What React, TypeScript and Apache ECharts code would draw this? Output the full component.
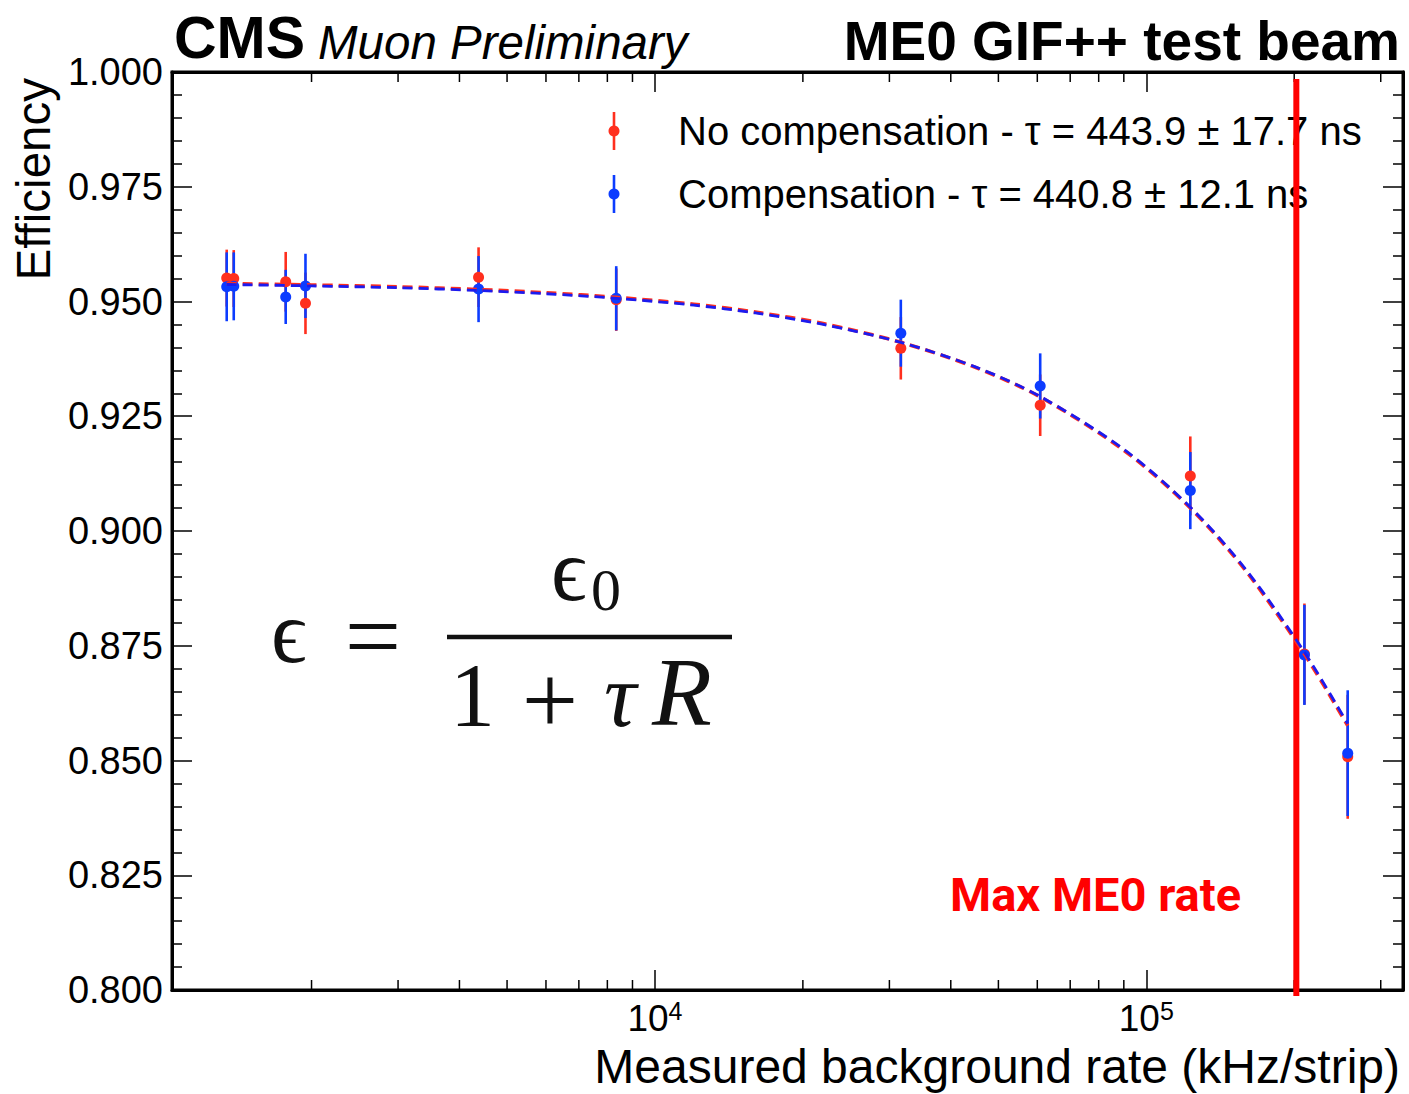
import React, { useEffect, useRef } from "react";
import * as echarts from "echarts";

// ---- data ----
const rates = [1344, 1389, 1772, 1944, 4375, 8340, 31650, 60820, 122900, 209800, 257000];
const effNoComp = [0.9551, 0.955, 0.9543, 0.9496, 0.9553, 0.9504, 0.9398, 0.9274, 0.912, 0.8732, 0.8508];
const errNoComp = [0.0062, 0.0062, 0.0065, 0.0067, 0.0065, 0.0068, 0.0068, 0.0067, 0.0086, 0.011, 0.0135];
const effComp = [0.9532, 0.9533, 0.951, 0.9534, 0.9527, 0.9507, 0.9431, 0.9316, 0.9088, 0.873, 0.8516];
const errComp = [0.0075, 0.0074, 0.0059, 0.007, 0.0072, 0.007, 0.0073, 0.0071, 0.0084, 0.0109, 0.0137];

const fitRates = [1344, 2000, 3000, 4375, 6000, 8340, 12000, 16000, 22000, 31650, 45000, 60820, 90000, 122900, 160000, 209800, 257000];
const fitNoComp = [0.9539, 0.9536, 0.9532, 0.9526, 0.9519, 0.9509, 0.9494, 0.9477, 0.9452, 0.9411, 0.9356, 0.9292, 0.9176, 0.905, 0.8911, 0.8732, 0.8576];
const fitComp = [0.9537, 0.9534, 0.953, 0.9524, 0.9517, 0.9507, 0.9492, 0.9475, 0.945, 0.9411, 0.9357, 0.9293, 0.9178, 0.9052, 0.8914, 0.8736, 0.858];

const xMinorTicks = [2000, 3000, 4000, 5000, 6000, 7000, 8000, 9000, 20000, 30000, 40000, 50000, 60000, 70000, 80000, 90000, 200000, 300000];
const maxME0Rate = 202000;

const X_MIN = 1040;
const X_MAX = 333000;
const Y_MIN = 0.8;
const Y_MAX = 1.0;
const Y_STEP = 0.025;

const legendNoComp = "No compensation - \u03c4 = 443.9 \u00b1 17.7 ns";
const legendComp = "Compensation - \u03c4 = 440.8 \u00b1 12.1 ns";

const RED = "#ff2f1e";
const BLUE = "#0c3cff";
const SANS = "'Liberation Sans', Arial, Helvetica, sans-serif";
const SERIF = "'Liberation Serif', 'DejaVu Serif', serif";

function errBarSeries(name: string, vals: number[], errs: number[], color: string) {
  return {
    type: "custom",
    name,
    xAxisIndex: 0,
    yAxisIndex: 0,
    data: rates.map((r, i) => [r, vals[i], errs[i]]),
    renderItem: (_p: any, api: any) => {
      const x = api.value(0);
      const y = api.value(1);
      const e = api.value(2);
      const lo = api.coord([x, y - e]);
      const hi = api.coord([x, y + e]);
      return {
        type: "line",
        shape: { x1: lo[0], y1: lo[1], x2: hi[0], y2: hi[1] },
        style: { stroke: color, lineWidth: 2.6 },
      };
    },
  };
}

function legendEntry(y: number, color: string, label: string) {
  return [
    { type: "line", shape: { x1: 614, y1: y - 19, x2: 614, y2: y + 19 }, style: { stroke: color, lineWidth: 2.6 } },
    { type: "circle", shape: { cx: 614, cy: y, r: 5.5 }, style: { fill: color } },
    {
      type: "text",
      x: 678,
      y,
      style: { text: label, font: `40px ${SANS}`, fill: "#000", align: "left", verticalAlign: "middle" },
    },
  ];
}

export default function App() {
  const ref = useRef<HTMLDivElement>(null);
  useEffect(() => {
    const chart = echarts.init(ref.current!, null, { renderer: "svg" });
    const isPow10 = (v: number) => {
      const l = Math.log10(v);
      return Math.abs(l - Math.round(l)) < 1e-6;
    };
    const option: any = {
      animation: false,
      backgroundColor: "#fff",
      grid: { left: 172, right: 6, top: 72, bottom: 104, show: true, borderColor: "#000", borderWidth: 3, backgroundColor: "transparent" },
      xAxis: [
        {
          type: "log",
          logBase: 10,
          min: X_MIN,
          max: X_MAX,
          position: "bottom",
          axisLine: { show: true, lineStyle: { color: "#000", width: 3 } },
          axisTick: { show: true, inside: true, length: 20, lineStyle: { color: "#000", width: 1.5 } },
          minorTick: { show: false },
          splitLine: { show: false },
          axisLabel: {
            show: true,
            margin: 8,
            showMinLabel: false,
            showMaxLabel: false,
            color: "#000",
            formatter: (v: number) => (isPow10(v) ? `{a|10}{s|${Math.round(Math.log10(v))}}` : ""),
            rich: {
              a: { fontSize: 37, fontFamily: SANS, color: "#000", lineHeight: 40 },
              s: { fontSize: 25, fontFamily: SANS, color: "#000", verticalAlign: "top", lineHeight: 26 },
            },
          },
        },
        {
          type: "log",
          logBase: 10,
          min: X_MIN,
          max: X_MAX,
          position: "top",
          axisLine: { show: true, lineStyle: { color: "#000", width: 3 } },
          axisTick: { show: true, inside: true, length: 20, lineStyle: { color: "#000", width: 1.5 } },
          axisLabel: { show: false },
          splitLine: { show: false },
        },
      ],
      yAxis: [
        {
          type: "value",
          min: Y_MIN,
          max: Y_MAX,
          interval: Y_STEP,
          position: "left",
          axisLine: { show: true, lineStyle: { color: "#000", width: 3 } },
          axisTick: { show: true, inside: true, length: 20, lineStyle: { color: "#000", width: 1.5 } },
          minorTick: { show: true, splitNumber: 5, length: 10, lineStyle: { color: "#000", width: 1.5 } },
          splitLine: { show: false },
          axisLabel: {
            margin: 9,
            color: "#000",
            fontSize: 38,
            fontFamily: SANS,
            formatter: (v: number) => v.toFixed(3),
          },
        },
        {
          type: "value",
          min: Y_MIN,
          max: Y_MAX,
          interval: Y_STEP,
          position: "right",
          axisLine: { show: true, lineStyle: { color: "#000", width: 3 } },
          axisTick: { show: true, inside: true, length: 20, lineStyle: { color: "#000", width: 1.5 } },
          minorTick: { show: true, splitNumber: 5, length: 10, lineStyle: { color: "#000", width: 1.5 } },
          splitLine: { show: false },
          axisLabel: { show: false },
        },
      ],
      series: [
        {
          type: "custom",
          name: "xMinorTicks",
          xAxisIndex: 0,
          yAxisIndex: 0,
          silent: true,
          data: xMinorTicks.map((v) => [v, Y_MIN]),
          renderItem: (_p: any, api: any) => {
            const v = api.value(0);
            const b = api.coord([v, Y_MIN]);
            const t = api.coord([v, Y_MAX]);
            return {
              type: "group",
              children: [
                { type: "line", shape: { x1: b[0], y1: b[1], x2: b[0], y2: b[1] - 10 }, style: { stroke: "#000", lineWidth: 1.5 } },
                { type: "line", shape: { x1: t[0], y1: t[1], x2: t[0], y2: t[1] + 10 }, style: { stroke: "#000", lineWidth: 1.5 } },
              ],
            };
          },
        },
        {
          type: "line",
          name: "Fit no compensation",
          data: fitRates.map((r, i) => [r, fitNoComp[i]]),
          smooth: 0.3,
          symbol: "none",
          lineStyle: { color: RED, width: 3.6, type: [10, 6] },
        },
        {
          type: "line",
          name: "Fit compensation",
          data: fitRates.map((r, i) => [r, fitComp[i]]),
          smooth: 0.3,
          symbol: "none",
          lineStyle: { color: "#1b1bf0", width: 2.8, type: [10, 6] },
        },
        errBarSeries("No compensation err", effNoComp, errNoComp, RED),
        errBarSeries("Compensation err", effComp, errComp, BLUE),
        {
          type: "scatter",
          name: "No compensation",
          data: rates.map((r, i) => [r, effNoComp[i]]),
          symbol: "circle",
          symbolSize: 11,
          itemStyle: { color: RED, opacity: 1 },
        },
        {
          type: "scatter",
          name: "Compensation",
          data: rates.map((r, i) => [r, effComp[i]]),
          symbol: "circle",
          symbolSize: 11,
          itemStyle: { color: BLUE, opacity: 1 },
        },
        {
          type: "custom",
          name: "Max ME0 rate line",
          xAxisIndex: 0,
          yAxisIndex: 0,
          silent: true,
          clip: false,
          data: [[maxME0Rate, Y_MIN]],
          renderItem: (_p: any, api: any) => {
            const v = api.value(0);
            const b = api.coord([v, Y_MIN]);
            const t = api.coord([v, Y_MAX]);
            return {
              type: "line",
              shape: { x1: b[0], y1: b[1] + 6, x2: b[0], y2: t[1] + 7 },
              style: { stroke: "#ff0000", lineWidth: 6 },
            };
          },
        },
      ],
      graphic: [
        { type: "text", x: 174, y: 38, style: { text: "CMS", font: `bold 59px ${SANS}`, fill: "#000", align: "left", verticalAlign: "middle" } },
        { type: "text", x: 318, y: 42, style: { text: "Muon Preliminary", font: `italic 47.5px ${SANS}`, fill: "#000", align: "left", verticalAlign: "middle" } },
        { type: "text", x: 1400, y: 41, style: { text: "ME0 GIF++ test beam", font: `bold 55px ${SANS}`, fill: "#000", align: "right", verticalAlign: "middle" } },
        {
          type: "text",
          x: 33,
          y: 78,
          rotation: Math.PI / 2,
          style: { text: "Efficiency", font: `47.5px ${SANS}`, fill: "#000", align: "right", verticalAlign: "middle" },
        },
        {
          type: "text",
          x: 1400,
          y: 1066,
          style: { text: "Measured background rate (kHz/strip)", font: `48px ${SANS}`, fill: "#000", align: "right", verticalAlign: "middle" },
        },
        ...legendEntry(131, RED, legendNoComp),
        ...legendEntry(194, BLUE, legendComp),
        {
          type: "text",
          x: 950,
          y: 894,
          style: { text: "Max ME0 rate", font: `bold 47px Roboto, ${SANS}`, fill: "#ff0000", align: "left", verticalAlign: "middle" },
        },
        // formula  ϵ = ϵ0 / (1 + τR)
        { type: "text", x: 271, y: 632, style: { text: "\u03f5", font: `88px ${SERIF}`, fill: "#111", align: "left", verticalAlign: "middle" } },
        { type: "text", x: 373, y: 636, style: { text: "=", font: `100px ${SERIF}`, fill: "#111", align: "center", verticalAlign: "middle" } },
        { type: "text", x: 551, y: 570, style: { text: "\u03f5", font: `88px ${SERIF}`, fill: "#111", align: "left", verticalAlign: "middle" } },
        { type: "text", x: 591, y: 590, style: { text: "0", font: `60px ${SERIF}`, fill: "#111", align: "left", verticalAlign: "middle" } },
        { type: "line", shape: { x1: 447, y1: 637, x2: 732, y2: 637 }, style: { stroke: "#111", lineWidth: 4.5 } },
        { type: "text", x: 450, y: 695, style: { text: "1", font: `90px ${SERIF}`, fill: "#111", align: "left", verticalAlign: "middle" } },
        { type: "text", x: 550, y: 700, style: { text: "+", font: `100px ${SERIF}`, fill: "#111", align: "center", verticalAlign: "middle" } },
        { type: "text", x: 604, y: 695, style: { text: "\u03c4", font: `italic 90px ${SERIF}`, fill: "#111", align: "left", verticalAlign: "middle" } },
        { type: "text", x: 652, y: 692, style: { text: "R", font: `italic 98px ${SERIF}`, fill: "#111", align: "left", verticalAlign: "middle" } },
      ],
    };
    chart.setOption(option);
    return () => chart.dispose();
  }, []);
  return <div ref={ref} style={{ position: "fixed", left: 0, top: 0, width: 1409, height: 1094, background: "#fff" }} />;
}
